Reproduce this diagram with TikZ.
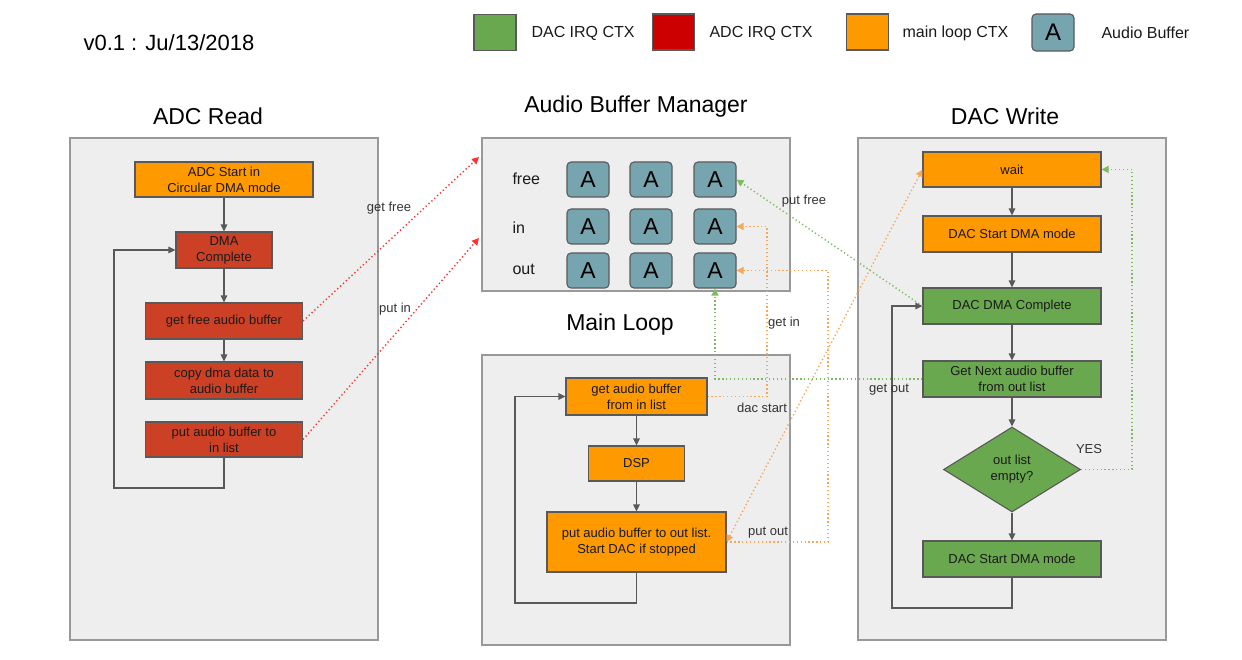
\documentclass[tikz,border=0pt]{standalone}
\usepackage{fontspec}
\setmainfont{Liberation Sans}
\usetikzlibrary{arrows.meta,shapes.geometric}
\definecolor{corange}{HTML}{FF9900}
\definecolor{cred}{HTML}{CC4125}
\definecolor{cgreen}{HTML}{6AA84F}
\definecolor{cteal}{HTML}{76A5AF}
\definecolor{clegred}{HTML}{CC0000}
\definecolor{panelfill}{HTML}{EEEEEE}
\definecolor{panelborder}{HTML}{999999}
\definecolor{boxborder}{HTML}{595959}
\definecolor{flowgray}{HTML}{595959}
\definecolor{txt}{HTML}{1A1A1A}
\definecolor{lblgray}{HTML}{333333}
\definecolor{dotred}{HTML}{FF3030}
\definecolor{dotgreen}{HTML}{7DBB5F}
\definecolor{dotorange}{HTML}{F6A75A}
\begin{document}
\begin{tikzpicture}[x=1pt,y=-1pt,
  panel/.style={draw=panelborder, fill=panelfill, line width=1.5pt, inner sep=0pt, minimum width=308pt},
  box/.style={draw=boxborder, line width=1.1pt, inner sep=0pt, align=center, text=txt, font=\fontsize{13}{16}\selectfont},
  obox/.style={box, fill=corange},
  rbox/.style={box, fill=cred},
  gbox/.style={box, fill=cgreen},
  buf/.style={draw=boxborder, line width=1.1pt, fill=cteal, rounded corners=4pt, minimum width=42pt, minimum height=35pt, inner sep=0pt, text=black, font=\fontsize{23}{23}\selectfont},
  legsq/.style={draw=boxborder, line width=1.1pt, minimum width=42pt, minimum height=36pt, inner sep=0pt},
  legtxt/.style={anchor=west, text=txt, font=\fontsize{16}{16}\selectfont},
  ttl/.style={text=black, font=\fontsize{23}{23}\selectfont},
  lbl/.style={text=lblgray, font=\fontsize{13}{13}\selectfont},
  rowlbl/.style={anchor=west, text=txt, font=\fontsize{16}{16}\selectfont},
  flow/.style={draw=flowgray, line width=1.2pt, -{Triangle[length=7pt,width=6.5pt]}},
  dotline/.style={line width=1.4pt, dash pattern=on 1.3pt off 2.6pt, -{Triangle[length=7pt,width=7pt]}},
  rdot/.style={dotline, draw=dotred},
  gdot/.style={dotline, draw=dotgreen},
  odot/.style={dotline, draw=dotorange}
]
\useasboundingbox (0,0) rectangle (1242,660);

% header
\node[anchor=west, text=black, font=\fontsize{22}{22}\selectfont] (ver) at (80,43) {v0.1 : Ju/13/2018};
\node[legsq, fill=cgreen] (legg) at (495,32.5) {};
\node[legtxt] (leggt) at (528,33) {DAC IRQ CTX};
\node[legsq, fill=clegred] (legr) at (673.5,32) {};
\node[legtxt] (legrt) at (706,33) {ADC IRQ CTX};
\node[legsq, fill=corange] (lego) at (867.5,32) {};
\node[legtxt] (legot) at (899,33) {main loop CTX};
\node[buf, minimum height=37pt, font=\fontsize{24}{24}\selectfont] (lega) at (1053,32.5) {A};
\node[legtxt] (legat) at (1098,33) {Audio Buffer};

% panels
\node[panel, minimum height=502pt] (adcpanel) at (224,389) {};
\node[panel, minimum height=153pt] (abmpanel) at (636,214.5) {};
\node[panel, minimum height=290pt] (mainpanel) at (636,500) {};
\node[panel, minimum height=502pt] (dacpanel) at (1012,389) {};

% titles
\node[ttl] (t1) at (208,116) {ADC Read};
\node[ttl] (t2) at (636,107) {Audio Buffer Manager};
\node[ttl] (t3) at (1005,116) {DAC Write};
\node[ttl] (t4) at (620,325) {Main Loop};

% ADC read
\node[obox, minimum width=178pt, minimum height=35pt] (adcstart) at (224,179.5) {ADC Start in\\Circular DMA mode};
\node[rbox, minimum width=96pt, minimum height=36pt] (dmacomp) at (224,250) {DMA\\Complete};
\node[rbox, minimum width=157pt, minimum height=36pt] (getfree) at (224,321) {get free audio buffer};
\node[rbox, minimum width=157pt, minimum height=37pt] (copy) at (224,380.5) {copy dma data to\\audio buffer};
\node[rbox, minimum width=157pt, minimum height=35pt] (putin) at (224,439.5) {put audio buffer to\\in list};
\coordinate (adcloop) at (114,488);
\draw[flow] (adcstart) -- (dmacomp);
\draw[flow] (dmacomp) -- (getfree);
\draw[flow] (getfree) -- (copy);
\draw[flow] (putin.south) |- (adcloop) |- (dmacomp.west);

% Audio buffer manager
\node[rowlbl] (lfree) at (509,179) {free};
\node[rowlbl] (lin) at (509,228) {in};
\node[rowlbl] (lout) at (509,269) {out};
\node[buf] (a11) at (588,179.5) {A};
\node[buf] (a12) at (651,179.5) {A};
\node[buf] (a13) at (715,179.5) {A};
\node[buf] (a21) at (588,226.5) {A};
\node[buf] (a22) at (651,226.5) {A};
\node[buf] (a23) at (715,226.5) {A};
\node[buf] (a31) at (588,270.5) {A};
\node[buf] (a32) at (651,270.5) {A};
\node[buf] (a33) at (715,270.5) {A};

% Main loop
\node[obox, minimum width=141pt, minimum height=37pt] (getaud) at (636.5,396.5) {get audio buffer\\from in list};
\node[obox, minimum width=96pt, minimum height=35pt] (dsp) at (636.5,463.5) {DSP};
\node[obox, minimum width=179pt, minimum height=60pt] (putout) at (636.5,542) {put audio buffer to out list.\\Start DAC if stopped};
\coordinate (mainloop) at (515,603);
\draw[flow] (getaud) -- (dsp);
\draw[flow] (dsp) -- (putout);
\draw[flow] (putout.south) |- (mainloop) |- (getaud.west);

% DAC write
\node[obox, minimum width=178pt, minimum height=35pt] (wait) at (1012,169.5) {wait};
\node[obox, minimum width=178pt, minimum height=36pt] (dacstart) at (1012,234) {DAC Start DMA mode};
\node[gbox, minimum width=178pt, minimum height=36pt] (daccomp) at (1012,306) {DAC DMA Complete};
\node[gbox, minimum width=178pt, minimum height=36pt] (getnext) at (1012,379) {Get Next audio buffer\\from out list};
\node[gbox, shape=diamond, minimum width=137pt, minimum height=85pt] (empty) at (1012,469.5) {out list\\empty?};
\node[gbox, minimum width=178pt, minimum height=36pt] (dacstart2) at (1012,559) {DAC Start DMA mode};
\coordinate (dacloop) at (892,608);
\draw[flow] (wait) -- (dacstart);
\draw[flow] (dacstart) -- (daccomp);
\draw[flow] (daccomp) -- (getnext);
\draw[flow] (getnext) -- (empty);
\draw[flow] (empty) -- (dacstart2);
\draw[flow] (dacstart2.south) |- (dacloop) |- (daccomp.west);

% dotted connectors
\coordinate (gfend) at (479,157);
\coordinate (piend) at (479,238);
\coordinate (gic) at (767,226.5);
\coordinate (poc) at (828,270.5);
\coordinate (yesc) at (1132,169.5);
\draw[rdot] (getfree.east) -- (gfend);
\draw[rdot] (putin.east) -- (piend);
\draw[gdot] (daccomp.west) -- (a13.east);
\draw[odot] (getaud.east) -| (gic) -- (a23.east);
\draw[gdot] (getnext.west) -| (a33.south);
\draw[odot] (putout.east) -| (poc) -- (a33.east);
\draw[odot, {Triangle[length=7pt,width=7pt]}-{Triangle[length=7pt,width=7pt]}] (putout.east) -- (wait.west);
\draw[gdot] (empty.east) -| (yesc) -- (wait.east);

% labels
\node[lbl] (lgetfree) at (389,208) {get free};
\node[lbl] (lputin) at (395,309) {put in};
\node[lbl] (lputfree) at (804,201) {put free};
\node[lbl] (lgetin) at (784,323) {get in};
\node[lbl] (ldacstart) at (762,408) {dac start};
\node[lbl] (lputout) at (768,533) {put out};
\node[lbl] (lgetout) at (889,390) {get out};
\node[lbl] (lyes) at (1089,449) {YES};
\end{tikzpicture}
\end{document}
